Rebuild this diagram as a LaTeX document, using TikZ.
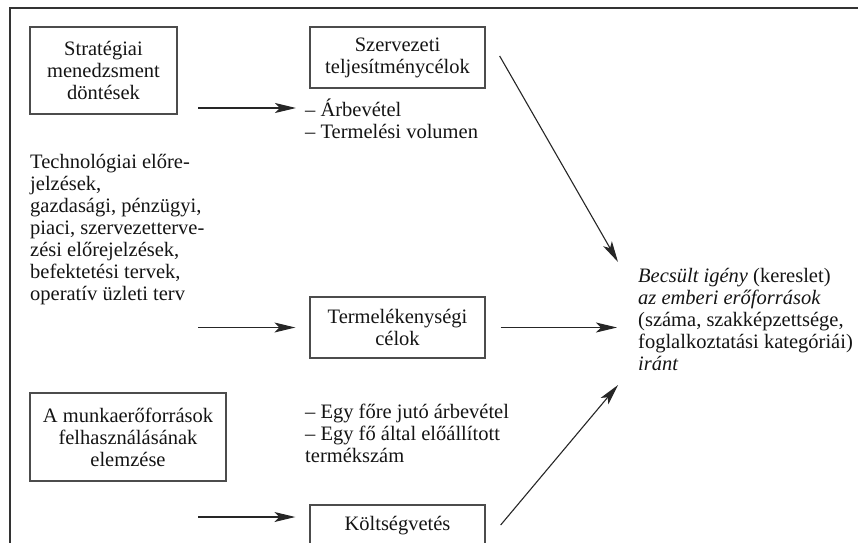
\documentclass[tikz,border=0pt]{standalone}
\usepackage{fontspec}
\setmainfont{Liberation Serif}
\usetikzlibrary{arrows.meta,calc}
\begin{document}
\begin{tikzpicture}[x=1pt,y=-1pt,
  every node/.style={font=\fontsize{20.5}{22}\selectfont,text=black!92},
  box/.style={draw=black!70,line width=1.3pt,align=center,inner sep=0pt},
  txt/.style={align=left,inner sep=0pt,anchor=north west},
  arr/.style={line width=1.1pt,draw=black!85,-{Stealth[length=21pt,width=10pt,inset=5pt]}},
  frame/.style={line width=2pt,draw=black!80}]
\useasboundingbox (0,0) rectangle (858,542);
\clip (0,0) rectangle (858,542);
% outer frame (top and left sides visible)
\draw[frame] (10,560) -- (10,7.5) -- (870,7.5);
% nodes
\node[box,minimum width=147pt,minimum height=87pt] (strat) at (103.5,70.5) {Stratégiai\\menedzsment\\döntések};
\node[box,minimum width=175pt,minimum height=61pt] (org) at (397.5,57.5) {Szervezeti\\teljesítménycélok};
\node[txt] (orgl) at (305,99) {– Árbevétel\\– Termelési volumen};
\node[txt] (tech) at (30,154) {Technológiai előre-\\jelzések,\\gazdasági, pénzügyi,\\piaci, szervezetterve-\\zési előrejelzések,\\befektetési tervek,\\operatív üzleti terv};
\node[box,minimum width=175pt,minimum height=61pt] (prod) at (397.5,327.5) {Termelékenységi\\célok};
\node[box,minimum width=196pt,minimum height=88pt] (munka) at (128,437) {A munkaerőforrások\\felhasználásának\\elemzése};
\node[txt] (prodl) at (305,404) {– Egy főre jutó árbevétel\\– Egy fő által előállított\\termékszám};
\node[box,minimum width=175pt,minimum height=42pt] (kolt) at (397.5,526) {Költségvetés};
\node[txt] (tgt) at (638,268) {\textit{Becsült igény} (kereslet)\\\textit{az emberi erőforrások}\\(száma, szakképzettsége,\\foglalkoztatási kategóriái)\\\textit{iránt}};
% connectors
\coordinate (s1) at (198,108);
\coordinate (s2) at (198,327.5);
\coordinate (s3) at (198,517);
\coordinate (e1) at (618,262);
\coordinate (e2) at (617,327.5);
\coordinate (e3) at (618,385);
\draw[arr,shorten >=9pt] (s1) -- (s1 -| orgl.west);
\draw[arr,shorten >=14pt] (s2) -- (s2 -| prod.west);
\draw[arr,shorten >=14pt] (s3) -- (s3 -| kolt.west);
\draw[arr] ($(org.east)+(14,-1.5)$) -- (e1);
\draw[arr,shorten <=15pt] (prod.east) -- (e2);
\draw[arr] ($(kolt.east)+(15,-1)$) -- (e3);
\end{tikzpicture}
\end{document}
